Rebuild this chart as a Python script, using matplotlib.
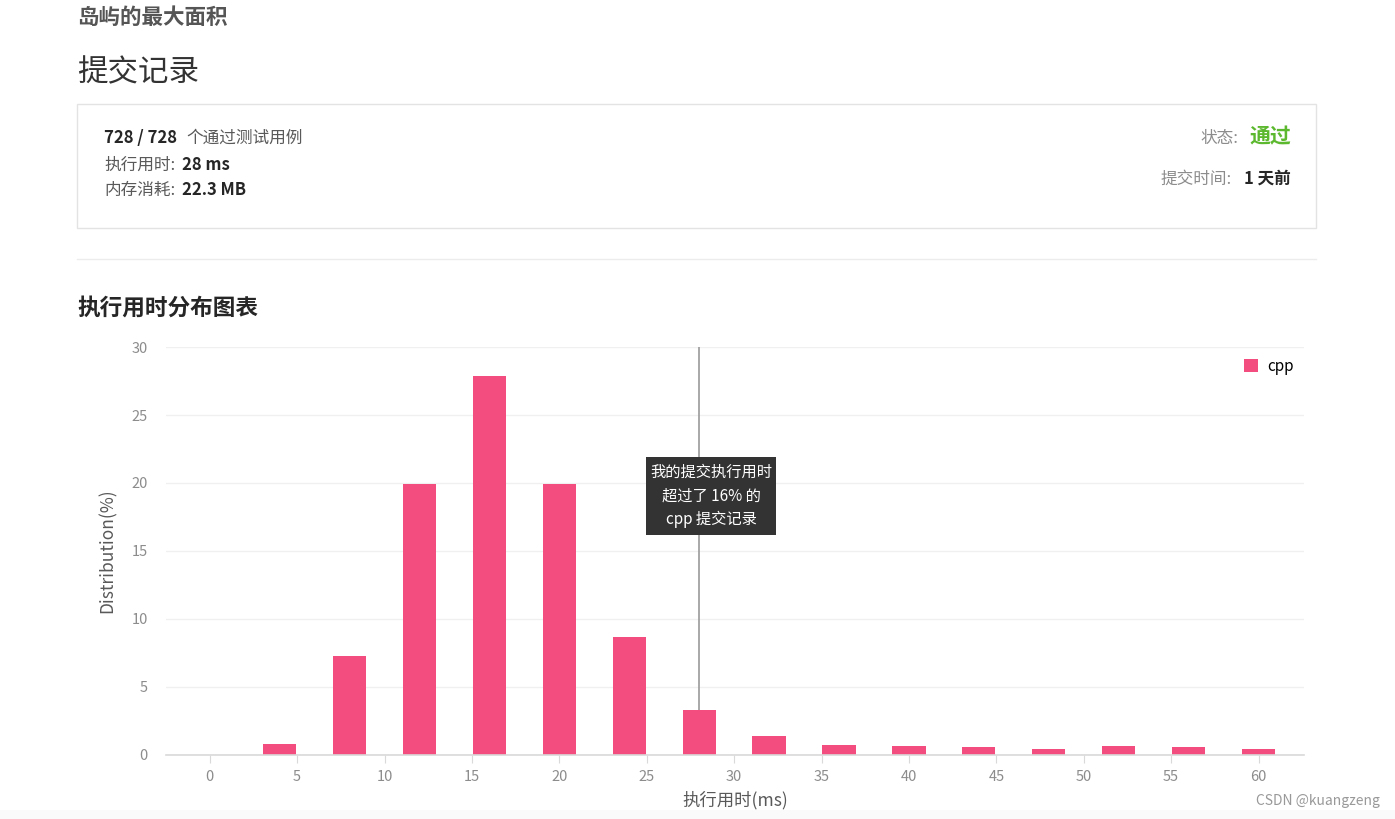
import matplotlib
matplotlib.use("Agg")
import matplotlib.pyplot as plt
from matplotlib.patches import Rectangle
from matplotlib.lines import Line2D

plt.rcParams['font.family'] = ['Noto Sans CJK SC', 'DejaVu Sans']

# runtime buckets (ms) and share of submissions (%)
runtime_ms = [0, 4, 8, 12, 16, 20, 24, 28, 32, 36, 40, 44, 48, 52, 56, 60]
distribution = [0, 0.8, 7.3, 19.9, 27.9, 19.9, 8.7, 3.3, 1.4, 0.75, 0.65, 0.6, 0.45, 0.65, 0.6, 0.45]
x_ticks = [0, 5, 10, 15, 20, 25, 30, 35, 40, 45, 50, 55, 60]
y_ticks = [0, 5, 10, 15, 20, 25, 30]
my_runtime = 28

W, H = 1395, 819
fig = plt.figure(figsize=(W / 100, H / 100), dpi=100)


def fx(px):
    return px / W


def fy(py):
    return 1 - py / H


def put(x, y, s, **kw):
    fig.text(fx(x), fy(y), s, **kw)


# page header
put(77, 17, '岛屿的最大面积', fontsize=15.5, fontweight='bold', color='#555555', va='center')
put(77, 73, '提交记录', fontsize=22, color='#333333', va='center')

# summary card
fig.patches.append(Rectangle((fx(77), fy(228)), fx(1316) - fx(77), fy(104) - fy(228),
                             transform=fig.transFigure, fill=False, edgecolor='#e3e3e3', lw=1))
put(104, 138, '728 / 728', fontsize=12, fontweight='bold', color='#262626', va='center')
put(186, 138, '个通过测试用例', fontsize=12, color='#595959', va='center')
put(104, 165, '执行用时:', fontsize=12, color='#595959', va='center')
put(182, 165, '28 ms', fontsize=12, fontweight='bold', color='#262626', va='center')
put(104, 190, '内存消耗:', fontsize=12, color='#595959', va='center')
put(182, 190, '22.3 MB', fontsize=12, fontweight='bold', color='#262626', va='center')

put(1238, 138, '状态:', fontsize=12, color='#8c8c8c', va='center', ha='right')
put(1291, 137, '通过', fontsize=15, fontweight='bold', color='#5cb82e', va='center', ha='right')
put(1232, 179, '提交时间:', fontsize=12, color='#8c8c8c', va='center', ha='right')
put(1291, 179, '1 天前', fontsize=12, fontweight='bold', color='#262626', va='center', ha='right')

fig.add_artist(Line2D([fx(77), fx(1316)], [fy(259), fy(259)], color='#ececec', lw=1))
put(77, 308, '执行用时分布图表', fontsize=16.3, fontweight='bold', color='#262626', va='center')

# chart
ax = fig.add_axes([fx(166), fy(755), fx(1304) - fx(166), fy(347) - fy(755)])
ax.vlines(my_runtime, 0, 30, color='#9a9a9a', lw=1.2, zorder=1)
ax.bar(runtime_ms, distribution, width=1.9, color='#f34c7e', zorder=2, label='cpp')
ax.set_xlim(-2.5, 62.6)
ax.set_ylim(0, 30)
ax.set_xticks(x_ticks)
ax.set_yticks(y_ticks)
ax.grid(axis='y', color='#f0f0f0', lw=1)
ax.set_axisbelow(True)
for s in ['top', 'right', 'left']:
    ax.spines[s].set_visible(False)
ax.spines['bottom'].set_color('#d9d9d9')
ax.spines['bottom'].set_linewidth(1.2)
ax.tick_params(axis='x', length=6, color='#d9d9d9', labelcolor='#8c8c8c', labelsize=10.5, pad=5)
ax.tick_params(axis='y', length=0, labelcolor='#8c8c8c', labelsize=10.5, pad=13)
ax.set_ylabel('Distribution(%)', fontsize=12.5, color='#595959', labelpad=11)
ax.set_xlabel('执行用时(ms)', fontsize=12.5, color='#595959', labelpad=5)
ax.legend(loc='upper right', bbox_to_anchor=(1.0, 1.0), frameon=False, fontsize=11,
          handlelength=0.9, handleheight=0.9, handletextpad=0.6, borderaxespad=0.3)

# tooltip
fig.patches.append(Rectangle((fx(646), fy(535)), fx(776) - fx(646), fy(457) - fy(535),
                             transform=fig.transFigure, facecolor='#333333', edgecolor='none', zorder=5))
for yy, line in zip([472, 496, 519], ['我的提交执行用时', '超过了 16% 的', 'cpp 提交记录']):
    fig.text(fx(711), fy(yy), line, fontsize=11, color='white', ha='center', va='center', zorder=6)

# bottom strip and watermark
fig.patches.append(Rectangle((0, 0), 1, fy(810), transform=fig.transFigure,
                             facecolor='#fafafa', edgecolor='none', zorder=0))
put(1380, 801, 'CSDN @kuangzeng', fontsize=10, color='#999999', ha='right', va='center')

fig.savefig('out.png', dpi=100)
